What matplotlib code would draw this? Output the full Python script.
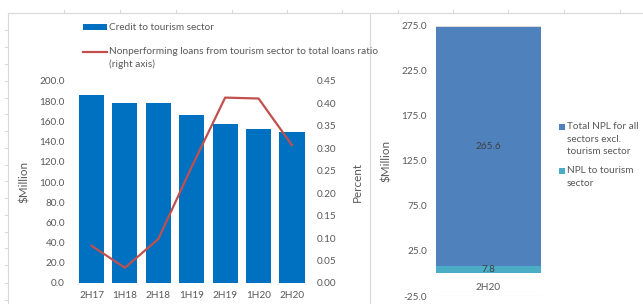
import matplotlib
matplotlib.use("Agg")
import matplotlib.pyplot as plt
from matplotlib.lines import Line2D
from matplotlib.patches import Rectangle

plt.rcParams['font.family'] = ['Lato', 'DejaVu Sans']

# ---- data ----
categories = ["2H17", "1H18", "2H18", "1H19", "2H19", "1H20", "2H20"]
credit_tourism = [186.1, 177.9, 178.5, 166.0, 157.4, 152.5, 149.2]
npl_ratio = [0.083, 0.034, 0.098, 0.259, 0.413, 0.411, 0.307]

right_category = ["2H20"]
npl_tourism = [7.8]
npl_other = [265.6]

left_ticks = [0, 20, 40, 60, 80, 100, 120, 140, 160, 180, 200]
right_ticks = [0, 0.05, 0.10, 0.15, 0.20, 0.25, 0.30, 0.35, 0.40, 0.45]
npl_ticks = [-25, 25, 75, 125, 175, 225, 275]

W, H = 643, 304
TXT = "#595959"
GRID = "#D9D9D9"
FS = 7.2
LFS = 8.4

fig = plt.figure(figsize=(W / 100, H / 100), dpi=100)


def fx(px):
    return px / W


def fy(py):
    return 1 - py / H


def box(x0, x1, ytop, ybot):
    return [fx(x0), fy(ybot), fx(x1) - fx(x0), fy(ytop) - fy(ybot)]


# ---- background spreadsheet lines ----
fig.add_artist(Line2D([fx(8), 1], [fy(13), fy(13)], color=GRID, lw=0.8))
fig.add_artist(Line2D([fx(8), fx(8)], [fy(13), 0], color=GRID, lw=0.8))
fig.add_artist(Line2D([fx(370), fx(370)], [fy(13), 0], color=GRID, lw=0.8))
for xt in [64, 120, 176, 232, 287, 342, 398, 453, 508, 564, 620]:
    fig.add_artist(Line2D([fx(xt), fx(xt)], [fy(10), fy(13)], color=GRID, lw=0.8))
for yt in [30, 47, 64, 81, 98, 114, 131, 148, 165, 181, 198, 215, 232, 248, 265, 283, 300]:
    fig.add_artist(Line2D([fx(5), fx(8)], [fy(yt), fy(yt)], color=GRID, lw=0.8))

# ---- left chart ----
ax = fig.add_axes(box(74.8, 308.7, 81, 283))
x = list(range(len(categories)))
ax.bar(x, credit_tourism, width=0.75, color="#0070C0", zorder=2)
ax.set_xlim(-0.5, len(categories) - 0.5)
ax.set_ylim(0, 200)
ax.set_yticks(left_ticks)
ax.set_yticklabels([f"{v:.1f}" for v in left_ticks])
ax.set_xticks(x)
ax.set_xticklabels(categories)
for s in ax.spines.values():
    s.set_visible(False)
ax.tick_params(axis="y", length=0, pad=7, labelsize=FS, labelcolor=TXT)
ax.tick_params(axis="x", length=0, pad=5.5, labelsize=FS, labelcolor=TXT)
ax.set_ylabel("$Million", fontsize=LFS, color=TXT)
ax.yaxis.set_label_coords((30 - 74.8) / (308.7 - 74.8), 0.5)

ax2 = ax.twinx()
ax2.plot(x, npl_ratio, color="#C0504D", lw=1.6, zorder=3)
ax2.set_ylim(0, 0.45)
ax2.set_yticks(right_ticks)
ax2.set_yticklabels([f"{v:.2f}" for v in right_ticks])
for s in ax2.spines.values():
    s.set_visible(False)
ax2.tick_params(axis="y", length=0, pad=6, labelsize=FS, labelcolor=TXT)
ax2.set_ylabel("Percent", fontsize=LFS, color=TXT)
ax2.yaxis.set_label_coords((352 - 74.8) / (308.7 - 74.8), 0.5)

# legend (left)
fig.add_artist(Rectangle((fx(83), fy(29.5)), fx(107) - fx(83), fy(24.5) - fy(29.5),
                         color="#0070C0", lw=0))
fig.text(fx(109), fy(27), "Credit to tourism sector", fontsize=FS, color=TXT, va="center")
fig.add_artist(Line2D([fx(83), fx(107)], [fy(52), fy(52)], color="#C0504D", lw=1.6))
fig.text(fx(109), fy(52), "Nonperforming loans from tourism sector to total loans ratio",
         fontsize=FS + 0.1, color=TXT, va="center")
fig.text(fx(109), fy(64.5), "(right axis)", fontsize=FS + 0.1, color=TXT, va="center")

# ---- right chart ----
axr = fig.add_axes(box(436, 541, 25.7, 296))
xr = list(range(len(right_category)))
axr.bar(xr, npl_tourism, width=1.0, color="#4BACC6", zorder=2)
axr.bar(xr, npl_other, bottom=npl_tourism, width=1.0, color="#4F81BD", zorder=2)
axr.set_xlim(-0.5, 0.5)
axr.set_ylim(-25, 275)
axr.set_yticks(npl_ticks)
axr.set_yticklabels([f"{v:.1f}" for v in npl_ticks])
axr.set_xticks([])
for yv in [-25, 275]:
    axr.axhline(yv, color=GRID, lw=0.8, zorder=1)
for s in axr.spines.values():
    s.set_visible(False)
axr.tick_params(axis="y", length=0, pad=6.5, labelsize=FS, labelcolor=TXT)
axr.set_ylabel("$Million", fontsize=LFS, color=TXT)
axr.yaxis.set_label_coords((392 - 436) / (541 - 436), (296 - 161) / (296 - 25.7))
for i in xr:
    axr.text(i, -15.5, right_category[i], ha="center", va="center", fontsize=FS, color=TXT)
    axr.text(i, npl_tourism[i] / 2, f"{npl_tourism[i]:.1f}", ha="center", va="center",
             fontsize=FS, color="#404040", zorder=4)
    axr.text(i, npl_tourism[i] + npl_other[i] / 2, f"{npl_other[i]:.1f}", ha="center",
             va="center", fontsize=FS, color="#404040", zorder=4)

# legend (right)
fig.add_artist(Rectangle((fx(559), fy(130)), fx(564.5) - fx(559), fy(124.5) - fy(130),
                         color="#4F81BD", lw=0))
for yy, t in [(126.7, "Total NPL for all"), (139.3, "sectors excl."), (151.7, "tourism sector")]:
    fig.text(fx(567), fy(yy), t, fontsize=FS, color=TXT, va="center")
fig.add_artist(Rectangle((fx(559), fy(174)), fx(564.5) - fx(559), fy(168.5) - fy(174),
                         color="#4BACC6", lw=0))
for yy, t in [(170.7, "NPL to tourism"), (183.3, "sector")]:
    fig.text(fx(567), fy(yy), t, fontsize=FS, color=TXT, va="center")

fig.savefig("out.png", dpi=100)
